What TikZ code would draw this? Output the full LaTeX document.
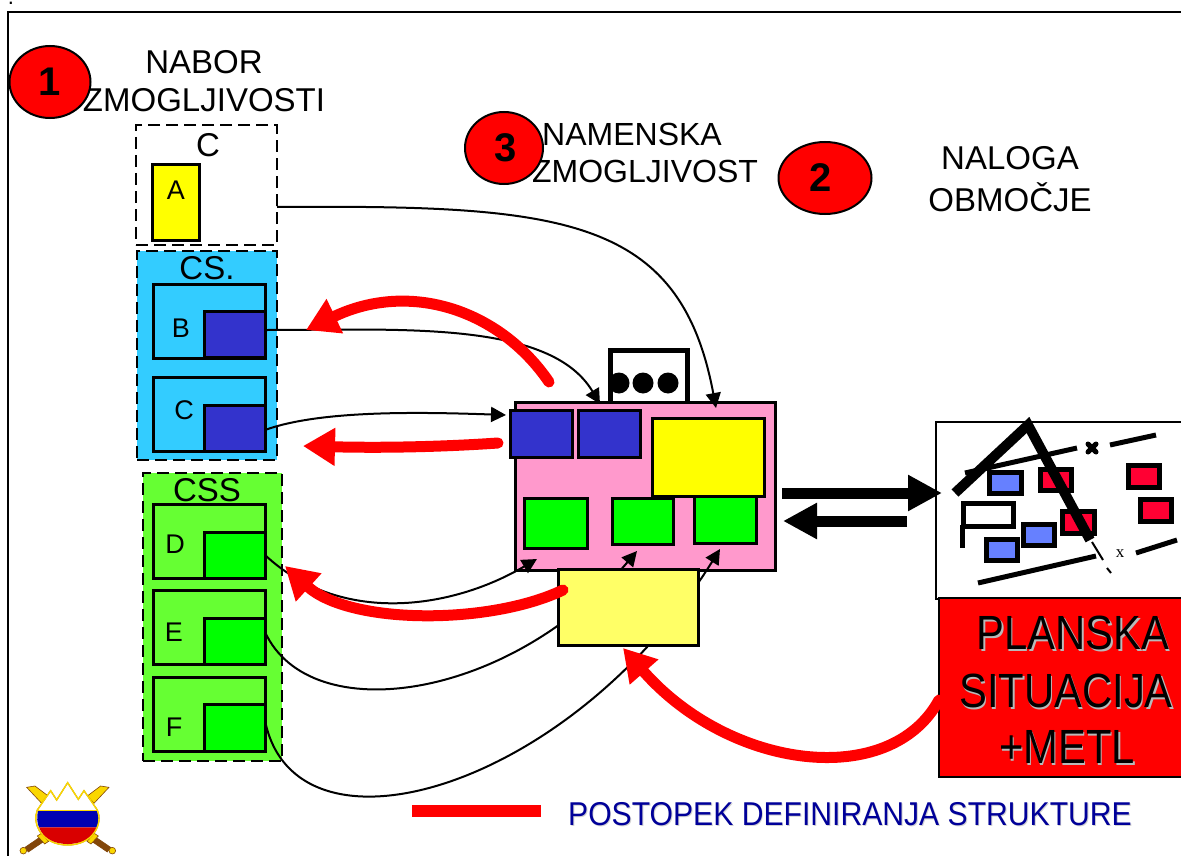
\documentclass[tikz,border=0pt]{standalone}
\usepackage{fontspec}
\usepackage{graphicx}
\setmainfont{Liberation Sans}
\usetikzlibrary{arrows.meta,shapes.geometric,calc}
\definecolor{cskyb}{RGB}{51,204,255}
\definecolor{cssg}{RGB}{102,255,51}
\definecolor{dblue}{RGB}{51,51,204}
\definecolor{pinkb}{RGB}{255,153,204}
\definecolor{lyel}{RGB}{255,255,102}
\definecolor{pyel}{RGB}{255,255,0}
\definecolor{pgrn}{RGB}{0,255,0}
\definecolor{pred}{RGB}{255,0,0}
\definecolor{mapblue}{RGB}{102,128,255}
\definecolor{mapred}{RGB}{255,0,51}
\definecolor{navyt}{RGB}{0,0,153}
\definecolor{brw}{RGB}{130,70,10}
\definecolor{gold}{RGB}{250,215,0}
\newcommand\bx[7]{\node[#2,anchor=north west,outer sep=0pt,minimum width=#5pt,minimum height=#6pt,inner sep=0pt] (#1) at (#3,#4) {#7};}
\newcommand\shtxt[3]{\leavevmode\rlap{\raisebox{-#1}{\hspace{#1}\textcolor{#2}{#3}}}#3}
\tikzset{
  x=1pt,y=-1pt,
  dashbox/.style={draw=black,line width=2pt,dash pattern=on 12pt off 6pt},
  solidbox/.style={draw=black,line width=3pt},
  txt/.style={font=\fontsize{33}{33}\selectfont,inner sep=0pt},
  txtb/.style={font=\fontsize{32}{32}\selectfont,inner sep=0pt},
  ltxt/.style={font=\fontsize{27}{27}\selectfont,inner sep=0pt},
  mtxt/.style={font=\fontsize{48}{48}\selectfont,inner sep=0pt},
  badge/.style={ellipse,draw=black,line width=2pt,fill=pred,inner sep=0pt,font=\fontsize{40}{40}\selectfont\bfseries},
  thinarrow/.style={draw=black,line width=2pt,-{Triangle[length=15pt,width=15pt]}},
  redarrow/.style={draw=pred,line width=11pt,line cap=round,-{Triangle[length=32pt,width=36pt]}},
  fatarrow/.style={draw=black,line width=11pt,-{Triangle[length=34pt,width=34pt]}},
  mapb/.style={draw=black,line width=5pt,fill=mapblue},
  mapr/.style={draw=black,line width=5pt,fill=mapred},
  mapline/.style={draw=black,line width=5pt},
  bigline/.style={draw=black,line width=10pt},
  swordup/.style={draw=brw,line width=.6pt,fill=gold},
  sworddn/.style={draw=brw,line width=.6pt,fill=brw},
  pommel/.style={draw=brw,line width=.6pt,fill=gold},
}
\begin{document}
\begin{tikzpicture}
\useasboundingbox (0,0) rectangle (1181,856);
\fill[white] (0,0) rectangle (1181,856);
% frame
\coordinate (fa) at (8,856); \coordinate (fb) at (8,12); \coordinate (fc) at (1181,12);
\draw[black,line width=2pt] (fa) -- (fb) -- (fc);
\node[font=\fontsize{22}{22}\selectfont,inner sep=0pt,anchor=base] (dot) at (11,5) {.};
% headings
\node[txt] (t1a) at (204,62) {NABOR};
\node[txt] (t1b) at (204,100) {ZMOGLJIVOSTI};
\node[txtb] (t3a) at (632,134) {NAMENSKA};
\node[txtb] (t3b) at (645,171) {ZMOGLJIVOST};
\node[txt] (t2a) at (1010,158) {NALOGA};
\node[txt] (t2b) at (1010,197) {OBMOČJE};
\node[badge,minimum width=81pt,minimum height=72pt] (b1) at (50,82) {1};
\node[badge,minimum width=78pt,minimum height=72pt] (b3) at (504,148) {\hspace*{3pt}3};
\node[badge,minimum width=93pt,minimum height=72pt] (b2) at (825,178) {2\hspace*{8pt}};
% left column
\bx{boxC}{dashbox,fill=white}{136}{125}{141}{120}{}
\node[txt] (lC) at (208,145) {C};
\bx{boxA}{solidbox,fill=pyel}{152}{165}{47}{75}{}
\node[ltxt] (lA) at (176,190) {A};
\bx{boxCS}{dashbox,fill=cskyb}{137}{251}{140}{209}{}
\node[txt] (lCS) at (207,268) {CS.};
\bx{boxB}{solidbox,fill=cskyb}{153}{284}{112}{74}{}
\bx{Bi}{solidbox,fill=dblue}{204}{311}{61}{46}{}
\node[ltxt] (lB) at (181,328) {B};
\bx{boxCc}{solidbox,fill=cskyb}{153}{377}{112}{74}{}
\bx{Ci}{solidbox,fill=dblue}{204}{405}{61}{46}{}
\node[ltxt] (lCc) at (184,410) {C};
\bx{boxCSS}{dashbox,fill=cssg}{143}{473}{139}{288}{}
\node[txt] (lCSS) at (207,490) {CSS};
\bx{boxD}{solidbox,fill=cssg}{153}{504}{112}{74}{}
\bx{Di}{solidbox,fill=pgrn}{204}{532}{61}{46}{}
\node[ltxt] (lD) at (175,544) {D};
\bx{boxE}{solidbox,fill=cssg}{153}{590}{112}{74}{}
\bx{Ei}{solidbox,fill=pgrn}{204}{618}{61}{46}{}
\node[ltxt] (lE) at (174,632) {E};
\bx{boxF}{solidbox,fill=cssg}{153}{677}{112}{74}{}
\bx{Fi}{solidbox,fill=pgrn}{204}{704}{61}{47}{}
\node[ltxt] (lF) at (174,727) {F};
% centre
\coordinate (ua) at (610,404); \coordinate (ub) at (610,350); \coordinate (uc) at (687,350); \coordinate (ud) at (687,404);
\node[circle,fill=black,minimum size=21pt,inner sep=0pt] (d1) at (619,383) {};
\node[circle,fill=black,minimum size=21pt,inner sep=0pt] (d2) at (643,383) {};
\node[circle,fill=black,minimum size=21pt,inner sep=0pt] (d3) at (668,383) {};
\draw[black,line width=5pt] (ua) -- (ub) -- (uc) -- (ud);
\bx{pink}{solidbox,fill=pinkb}{515}{402}{260}{168}{}
\bx{blueA}{solidbox,fill=dblue}{510}{410}{62}{47}{}
\bx{blueB}{solidbox,fill=dblue}{578}{410}{62}{47}{}
\bx{yel}{solidbox,fill=pyel}{652}{418}{112}{78}{}
\bx{grA}{solidbox,fill=pgrn}{524}{498}{63}{50}{}
\bx{grB}{solidbox,fill=pgrn}{612}{498}{61}{46}{}
\bx{grC}{solidbox,fill=pgrn}{694}{496}{62}{47}{}
% thin connectors
\coordinate (tipY) at (716,408);
\coordinate (tipB) at (600,404);
\coordinate (tipC) at (506,415);
\coordinate (tipD) at (537,559);
\coordinate (tipE) at (637,551);
\coordinate (tipF) at (720,549);
\draw[thinarrow] ([yshift=-22pt]boxC.east) .. controls (560,205) and (680,215) .. (tipY);
\draw[thinarrow] ([yshift=4pt]Bi.east) .. controls (400,330) and (550,320) .. (tipB);
\draw[thinarrow] ([yshift=-2pt]Ci.east) .. controls (320,410) and (420,412) .. (tipC);
\draw[thinarrow] (Di.east) .. controls (340,625) and (450,610) .. (tipD);
\draw[thinarrow] ([yshift=9pt]Ei.east) .. controls (310,730) and (510,700) .. (tipE);
\draw[thinarrow] ([yshift=7pt]Fi.east) .. controls (295,870) and (570,790) .. (tipF);
\bx{lyellow}{solidbox,fill=lyel}{558}{569}{140}{76}{}
% fat arrows
\coordinate (faS) at (782,493); \coordinate (faE) at (942,493);
\coordinate (fbS) at (907,521); \coordinate (fbE) at (783,521);
% map
\bx{map}{draw=black,line width=2pt,fill=white}{936}{422}{250}{177}{}
\draw[fatarrow] (faS) -- (faE);
\draw[fatarrow] (fbS) -- (fbE);
\coordinate (ma) at (965,473); \coordinate (mb) at (1077,448);
\coordinate (mc) at (1110,445); \coordinate (md) at (1156,435);
\coordinate (me) at (978,583); \coordinate (mf) at (1096,556);
\coordinate (mg) at (1136,553); \coordinate (mh) at (1177,540);
\coordinate (mi) at (1092,542); \coordinate (mj) at (1103,560);
\coordinate (mk) at (1107,568); \coordinate (ml) at (1111,573);
\coordinate (xa) at (1088,444); \coordinate (xb) at (1096,452);
\coordinate (xc) at (1096,444); \coordinate (xd) at (1088,452);
\draw[mapline] (ma) -- (mb);
\draw[mapline] (mc) -- (md);
\draw[mapline] (me) -- (mf);
\draw[mapline] (mg) -- (mh);
\draw[black,line width=2pt] (mi) -- (mj);
\draw[black,line width=2pt] (mk) -- (ml);
\draw[black,line width=5pt,line cap=round] (xa) -- (xb);
\draw[black,line width=5pt,line cap=round] (xc) -- (xd);
\node[font=\fontsize{17}{17}\selectfont,inner sep=0pt] (mx) at (1120,554) {\setmainfont{Liberation Serif}x};
\bx{mb1}{mapb}{989}{472}{32}{21}{}
\bx{mb2}{mapb}{1023}{524}{31}{21}{}
\bx{mb3}{mapb}{986}{539}{31}{21}{}
\bx{mr1}{mapr}{1040}{469}{31}{21}{}
\bx{mr2}{mapr}{1062}{511}{32}{22}{}
\bx{mr3}{mapr}{1128}{465}{31}{22}{}
\bx{mr4}{mapr}{1140}{499}{31}{22}{}
\bx{mz}{draw=black,line width=5pt}{963}{503}{50}{23}{}
\coordinate (mza) at (962,525); \coordinate (mzb) at (962,548);
\draw[mapline] (mza) -- (mzb);
\coordinate (apA) at (955,493); \coordinate (apB) at (1028,425); \coordinate (apC) at (1090,540);
\draw[bigline,miter limit=10] (apA) -- (apB) -- (apC);
% situation box
\bx{sit}{draw=black,line width=2pt,fill=pred}{939}{598}{250}{179}{}
\node[mtxt] (s1) at (1073,634) {\scalebox{.87}[1]{\shtxt{1.6pt}{gray!55}{PLANSKA}}};
\node[mtxt] (s2) at (1066,692) {\scalebox{.87}[1]{\shtxt{1.6pt}{gray!55}{SITUACIJA}}};
\node[mtxt] (s3) at (1067,748) {\scalebox{.87}[1]{\shtxt{1.6pt}{gray!55}{+METL}}};
% red arrows
\coordinate (r1s) at (549,382); \coordinate (r1e) at (306,330);
\coordinate (r2s) at (498,443); \coordinate (r2e) at (303,446);
\coordinate (r3s) at (563,590); \coordinate (r3e) at (285,566);
\coordinate (r4s) at (939,700); \coordinate (r4e) at (623,648);
\draw[redarrow] (r1s) .. controls (500,310) and (410,280) .. (r1e);
\draw[redarrow] (r2s) .. controls (440,447) and (380,448) .. (r2e);
\draw[redarrow] (r3s) .. controls (490,625) and (350,625) .. (r3e);
\draw[redarrow] (r4s) .. controls (890,790) and (730,770) .. (r4e);
% legend
\coordinate (lga) at (412,811); \coordinate (lgb) at (541,811);
\draw[pred,line width=12pt] (lga) -- (lgb);
\node[anchor=west,inner sep=0pt,text=navyt,font=\fontsize{33}{33}\selectfont] (lg) at (568,815) {\scalebox{.913}[1]{\shtxt{1pt}{gray!35}{POSTOPEK DEFINIRANJA STRUKTURE}}};
% emblem
\begin{scope}[shift={(0,760)},x=.3333pt,y=-.3333pt]
\draw[swordup] (80,82) -- (105,78) -- (145,108) -- (125,130) -- cycle;
\draw[swordup] (327,82) -- (302,78) -- (262,108) -- (282,130) -- cycle;
\draw[sworddn] (125,228) -- (75,262) -- (85,276) -- (138,240) -- cycle;
\draw[sworddn] (282,228) -- (332,262) -- (322,276) -- (269,240) -- cycle;
\fill[pommel] (70,272) circle (10);
\fill[pommel] (337,272) circle (10);
\draw[pommel] (112,228) -- (124,220) -- (146,244) -- (134,252) -- cycle;
\draw[pommel] (295,228) -- (283,220) -- (261,244) -- (273,252) -- cycle;
\draw[draw=brw,line width=1pt,fill=white] (112,150) -- (152,92) -- (170,120) -- (203,68) -- (235,118) -- (252,92) -- (292,150) .. controls (310,190) and (280,255) .. (203,255) .. controls (125,255) and (95,190) .. (112,150) -- cycle;
\fill[blue!70!black] (114,152) -- (292,152) .. controls (297,170) and (297,190) .. (291,202) -- (117,202) .. controls (111,190) and (110,170) .. (114,152) -- cycle;
\fill[pred!85!black] (117,202) -- (291,202) .. controls (278,235) and (245,252) .. (203,252) .. controls (160,252) and (130,235) .. (117,202) -- cycle;
\draw[gold,line width=1pt] (112,150) -- (292,150);
\draw[gold,line width=1.4pt] (112,150) -- (152,92) -- (170,120) -- (203,68) -- (235,118) -- (252,92) -- (292,150) .. controls (310,190) and (280,255) .. (203,255) .. controls (125,255) and (95,190) .. (112,150) -- cycle;
\end{scope}
\end{tikzpicture}
\end{document}
